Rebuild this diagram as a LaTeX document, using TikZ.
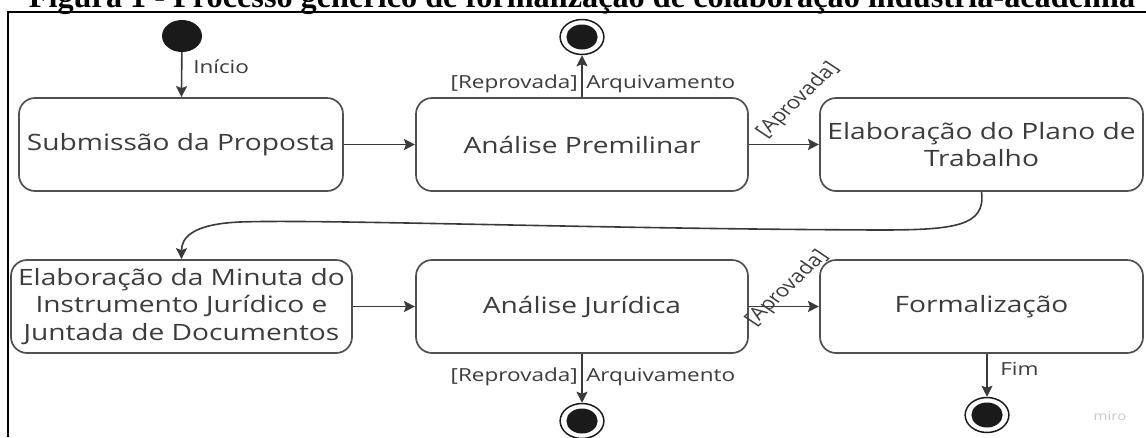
\documentclass[tikz,border=0pt]{standalone}
\usepackage{fontspec}
\setmainfont{Liberation Serif}
\newfontfamily\osans{Open Sans}
\usetikzlibrary{arrows.meta}
\definecolor{txt}{HTML}{3C3C3C}
\definecolor{edgec}{HTML}{505050}
\definecolor{arrc}{HTML}{3A3A3A}
\definecolor{dotc}{HTML}{1A1A1A}
\definecolor{wmc}{HTML}{C8C8C8}
\tikzset{
  box/.style={draw=edgec, line width=1.7pt, rounded corners=16pt, xscale=1.25,
    minimum height=93pt, align=center, text=txt, inner sep=0pt,
    font=\osans\fontsize{22.5}{27.5}\selectfont},
  lbl/.style={font=\osans\fontsize{18}{20}\selectfont, text=txt, xscale=1.25, inner sep=0pt},
  conn/.style={draw=arrc, line width=1.6pt, -{Stealth[length=11pt,width=11pt,inset=2pt]}},
  startdot/.style={circle, fill=dotc, minimum size=32pt, inner sep=0pt, xscale=1.25},
  endring/.style={circle, draw=dotc, line width=1.5pt, fill=white, minimum size=35pt, inner sep=0pt, xscale=1.25},
  enddot/.style={circle, fill=dotc, minimum size=25pt, inner sep=0pt, xscale=1.25}
}
\begin{document}
\begin{tikzpicture}[x=1pt,y=-1pt]
\useasboundingbox (0,0) rectangle (1146,437);
\clip (0,0) rectangle (1146,437);
\fill[white] (0,0) rectangle (1146,437);
% title
\node[anchor=base, inner sep=0pt] (title) at (582,7.5)
  {\resizebox{1106pt}{!}{\bfseries Figura 1 - Processo genérico de formalização de colaboração indústria-academia}};
% frame
\draw[line width=1.5pt] (8,437) -- (8,12) -- (1146,12);
% nodes
\node[startdot] (s) at (182,36) {};
\node[endring] (f1) at (582,37) {};
\node[enddot] at (f1.center) {};
\node[box, minimum width=259.2pt] (b1) at (181,144.5) {Submissão da Proposta};
\node[box, minimum width=265.6pt] (b2) at (582,144.5) {Análise Premilinar};
\node[box, minimum width=258.4pt] (b3) at (981.5,144.5) {Elaboração do Plano de\\Trabalho};
\node[box, minimum width=272.8pt] (b4) at (181.5,306.5) {Elaboração da Minuta do\\Instrumento Jurídico e\\Juntada de Documentos};
\node[box, minimum width=265.6pt] (b5) at (582,306.5) {Análise Jurídica};
\node[box, minimum width=258.4pt] (b6) at (981.5,306.5) {Formalização};
\node[endring] (f2) at (582,421) {};
\node[enddot] at (f2.center) {};
\node[endring] (f3) at (987,415) {};
\node[enddot] at (f3.center) {};
% connectors
\draw[conn] (s) -- (b1);
\node[lbl, anchor=base west] (linicio) at (193,73) {Início};
\draw[conn] (b1) -- (b2);
\draw[conn] (b2) -- (f1);
\node[lbl, anchor=base east] (lrep1) at (578,88) {[Reprovada]};
\node[lbl, anchor=base west] (larq1) at (586,88) {Arquivamento};
\draw[conn] (b2) -- (b3);
\node[lbl, rotate=50] (lapr1) at (798,100) {[Aprovada]};
\draw[conn] (b3.south) .. controls (986,226) and (955,230) .. (880,230)
   .. controls (600,229) and (320,219) .. (240,222)
   .. controls (192,224) and (181.5,238) .. (b4.north);
\draw[conn] (b4) -- (b5);
\draw[conn] (b5) -- (b6);
\node[lbl, rotate=50] (lapr2) at (787,288) {[Aprovada]};
\draw[conn] (b5) -- (f2);
\node[lbl, anchor=base east] (lrep2) at (578,381) {[Reprovada]};
\node[lbl, anchor=base west] (larq2) at (586,381) {Arquivamento};
\draw[conn] (b6.south -| f3) -- (f3);
\node[lbl, anchor=base west] (lfim) at (1000,375) {Fim};
\node[font=\osans\fontsize{12}{14}\selectfont, text=wmc, xscale=1.25] (miro) at (1110,416) {miro};
\end{tikzpicture}
\end{document}
